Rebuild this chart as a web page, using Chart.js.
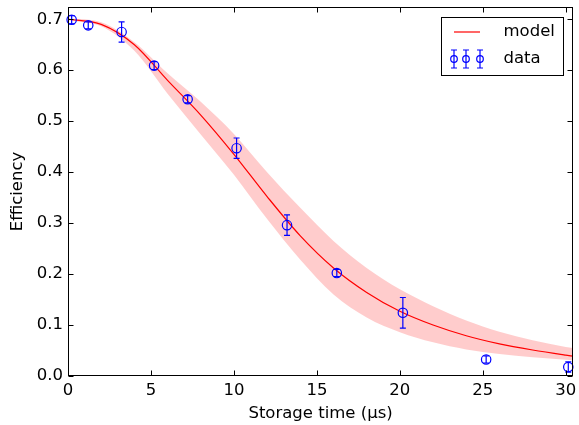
<!DOCTYPE html>
<html>
<head>
<meta charset="utf-8">
<script src="https://cdn.jsdelivr.net/npm/chart.js@4.4.0/dist/chart.umd.min.js"></script>
<style>
    html, body { margin: 0; padding: 0; background: #fff; }
    #wrap { width: 579px; height: 425px; }
</style>
</head>
<body>
<div id="wrap"><canvas id="effGraph" width="579" height="425"></canvas></div>
<script>
// measured points
const dataTime = [0.22, 1.22, 3.23, 5.19, 7.21, 10.16, 13.2, 16.2, 20.18, 25.2, 30.15];
const dataEff  = [0.699, 0.688, 0.675, 0.609, 0.543, 0.447, 0.296, 0.202, 0.124, 0.0325, 0.0176];
const dataErr  = [0.008, 0.007, 0.020, 0.008, 0.007, 0.020, 0.020, 0.007, 0.030, 0.007, 0.010];

// model curve and its band
const modelTime = [0, 2, 4, 6, 8, 10, 12, 14, 16, 18, 20, 22, 24, 26, 28, 30, 30.44];
const modelEff  = [0.700, 0.690, 0.650, 0.580, 0.512, 0.435, 0.352, 0.275, 0.212, 0.164, 0.127, 0.100, 0.079, 0.063, 0.051, 0.041, 0.039];
const bandHigh  = [0.702, 0.694, 0.655, 0.594, 0.538, 0.475, 0.400, 0.330, 0.265, 0.212, 0.170, 0.137, 0.109, 0.087, 0.070, 0.057, 0.055];
const bandLow   = [0.698, 0.686, 0.638, 0.554, 0.474, 0.395, 0.308, 0.228, 0.160, 0.115, 0.086, 0.066, 0.052, 0.043, 0.037, 0.032, 0.031];

const xTicks = [0, 5, 10, 15, 20, 25, 30];
const yTicks = [0, 0.1, 0.2, 0.3, 0.4, 0.5, 0.6, 0.7];

const fontFamily = "'DejaVu Sans', sans-serif";
const fontSize = 16.5;

function toXY(xs, ys) {
    return xs.map(function (x, i) { return {x: x, y: ys[i]}; });
}

// matplotlib-like frame with inward ticks on all sides
const framePlugin = {
    id: 'frame',
    afterDatasetsDraw: function (chart) {
        const ctx = chart.ctx;
        const a = chart.chartArea;
        const xs = chart.scales.x, ys = chart.scales.y;
        const l = Math.round(a.left) + 0.5, r = Math.round(a.right) - 0.5;
        const t = Math.round(a.top) + 0.5, b = Math.round(a.bottom) - 0.5;

        // error bars
        ctx.save();
        ctx.beginPath();
        ctx.rect(a.left, a.top, a.right - a.left, a.bottom - a.top);
        ctx.clip();
        ctx.strokeStyle = '#0000ff';
        ctx.lineWidth = 1.2;
        dataTime.forEach(function (tv, i) {
            const px = xs.getPixelForValue(tv);
            const y1 = ys.getPixelForValue(dataEff[i] - dataErr[i]);
            const y2 = ys.getPixelForValue(dataEff[i] + dataErr[i]);
            ctx.beginPath();
            ctx.moveTo(px, y1); ctx.lineTo(px, y2);
            ctx.moveTo(px - 3, y1); ctx.lineTo(px + 3, y1);
            ctx.moveTo(px - 3, y2); ctx.lineTo(px + 3, y2);
            ctx.stroke();
        });
        ctx.restore();

        ctx.save();
        ctx.strokeStyle = '#000';
        ctx.lineWidth = 1;
        ctx.beginPath();
        xTicks.forEach(function (v) {
            const px = Math.round(xs.getPixelForValue(v)) + 0.5;
            ctx.moveTo(px, b); ctx.lineTo(px, b - 5);
            ctx.moveTo(px, t); ctx.lineTo(px, t + 5);
        });
        yTicks.forEach(function (v) {
            const py = Math.round(ys.getPixelForValue(v)) + 0.5;
            ctx.moveTo(l, py); ctx.lineTo(l + 5, py);
            ctx.moveTo(r, py); ctx.lineTo(r - 5, py);
        });
        ctx.stroke();
        ctx.strokeRect(l, t, r - l, b - t);
        ctx.restore();
    },
    afterDraw: function (chart) {
        // legend box inside the axes, upper right
        const ctx = chart.ctx;
        const a = chart.chartArea;
        const bx = Math.round(a.right) - 131.5, by = Math.round(a.top) + 10.5;
        const bw = 122, bh = 58;
        ctx.save();
        ctx.fillStyle = '#fff';
        ctx.fillRect(bx, by, bw, bh);
        ctx.strokeStyle = '#000';
        ctx.lineWidth = 1;
        ctx.strokeRect(bx, by, bw, bh);

        const lx = bx + 12.5;
        // model entry
        ctx.strokeStyle = '#ff0000';
        ctx.lineWidth = 1.2;
        ctx.beginPath();
        ctx.moveTo(lx, by + 14.5); ctx.lineTo(lx + 26, by + 14.5);
        ctx.stroke();
        // data entry
        ctx.strokeStyle = '#0000ff';
        [0, 12, 26].forEach(function (dx) {
            const cx = lx + dx, cy = by + 41.5;
            ctx.beginPath();
            ctx.moveTo(cx, cy - 9); ctx.lineTo(cx, cy + 9);
            ctx.moveTo(cx - 3, cy - 9); ctx.lineTo(cx + 3, cy - 9);
            ctx.moveTo(cx - 3, cy + 9); ctx.lineTo(cx + 3, cy + 9);
            ctx.stroke();
            ctx.beginPath();
            ctx.arc(cx, cy, 3.3, 0, Math.PI * 2);
            ctx.stroke();
        });
        ctx.fillStyle = '#000';
        ctx.font = fontSize + 'px ' + fontFamily;
        ctx.textBaseline = 'middle';
        ctx.textAlign = 'left';
        ctx.fillText('model', bx + 62, by + 14.5);
        ctx.fillText('data', bx + 62, by + 41.5);
        ctx.restore();
    }
};

const config = {
    type: 'line',
    data: {
        datasets: [
            {
                label: 'band low',
                data: toXY(modelTime, bandLow),
                borderWidth: 0,
                pointRadius: 0,
                fill: false,
                cubicInterpolationMode: 'monotone',
                order: 4,
            },
            {
                label: 'band high',
                data: toXY(modelTime, bandHigh),
                borderWidth: 0,
                pointRadius: 0,
                backgroundColor: 'rgba(255, 0, 0, 0.2)',
                fill: 0,
                cubicInterpolationMode: 'monotone',
                order: 3,
            },
            {
                label: 'model',
                data: toXY(modelTime, modelEff),
                borderColor: '#ff0000',
                borderWidth: 1.2,
                pointRadius: 0,
                fill: false,
                cubicInterpolationMode: 'monotone',
                order: 2,
            },
            {
                label: 'data',
                data: toXY(dataTime, dataEff),
                showLine: false,
                pointStyle: 'circle',
                pointRadius: 4.7,
                pointBorderWidth: 1.2,
                pointBorderColor: '#0000ff',
                pointBackgroundColor: 'rgba(0,0,0,0)',
                clip: 6,
                order: 1,
            },
        ]
    },
    plugins: [framePlugin],
    options: {
        responsive: false,
        animation: false,
        devicePixelRatio: 1,
        layout: { padding: { top: 7, right: 2, left: 0, bottom: 0 } },
        plugins: {
            legend: { display: false },
            tooltip: { enabled: false },
        },
        scales: {
            x: {
                type: 'linear',
                min: 0,
                max: 30.44,
                afterBuildTicks: function (s) {
                    s.ticks = xTicks.map(function (v) { return {value: v}; });
                },
                afterFit: function (s) {
                    s.height = 49;
                    s.paddingLeft = 0;
                    s.paddingRight = 0;
                },
                grid: { display: false, drawTicks: false },
                border: { display: false },
                ticks: {
                    color: '#000',
                    padding: 5,
                    maxRotation: 0,
                    autoSkip: false,
                    font: { family: fontFamily, size: fontSize },
                    callback: function (value) { return String(value); }
                },
                title: {
                    display: true,
                    text: 'Storage time (μs)',
                    color: '#000',
                    padding: { top: 0, bottom: 1 },
                    font: { family: fontFamily, size: fontSize },
                },
            },
            y: {
                type: 'linear',
                min: 0,
                max: 0.724,
                afterBuildTicks: function (s) {
                    s.ticks = yTicks.map(function (v) { return {value: v}; });
                },
                afterFit: function (s) {
                    s.width = 68;
                    s.paddingTop = 0;
                    s.paddingBottom = 0;
                },
                grid: { display: false, drawTicks: false },
                border: { display: false },
                ticks: {
                    color: '#000',
                    padding: 5,
                    autoSkip: false,
                    font: { family: fontFamily, size: fontSize },
                    callback: function (value) { return value.toFixed(1); }
                },
                title: {
                    display: true,
                    text: 'Efficiency',
                    color: '#000',
                    padding: { top: 8, bottom: 0 },
                    font: { family: fontFamily, size: fontSize },
                },
            },
        }
    }
};

let myEffChart = new Chart(document.getElementById('effGraph'), config);
</script>
</body>
</html>
